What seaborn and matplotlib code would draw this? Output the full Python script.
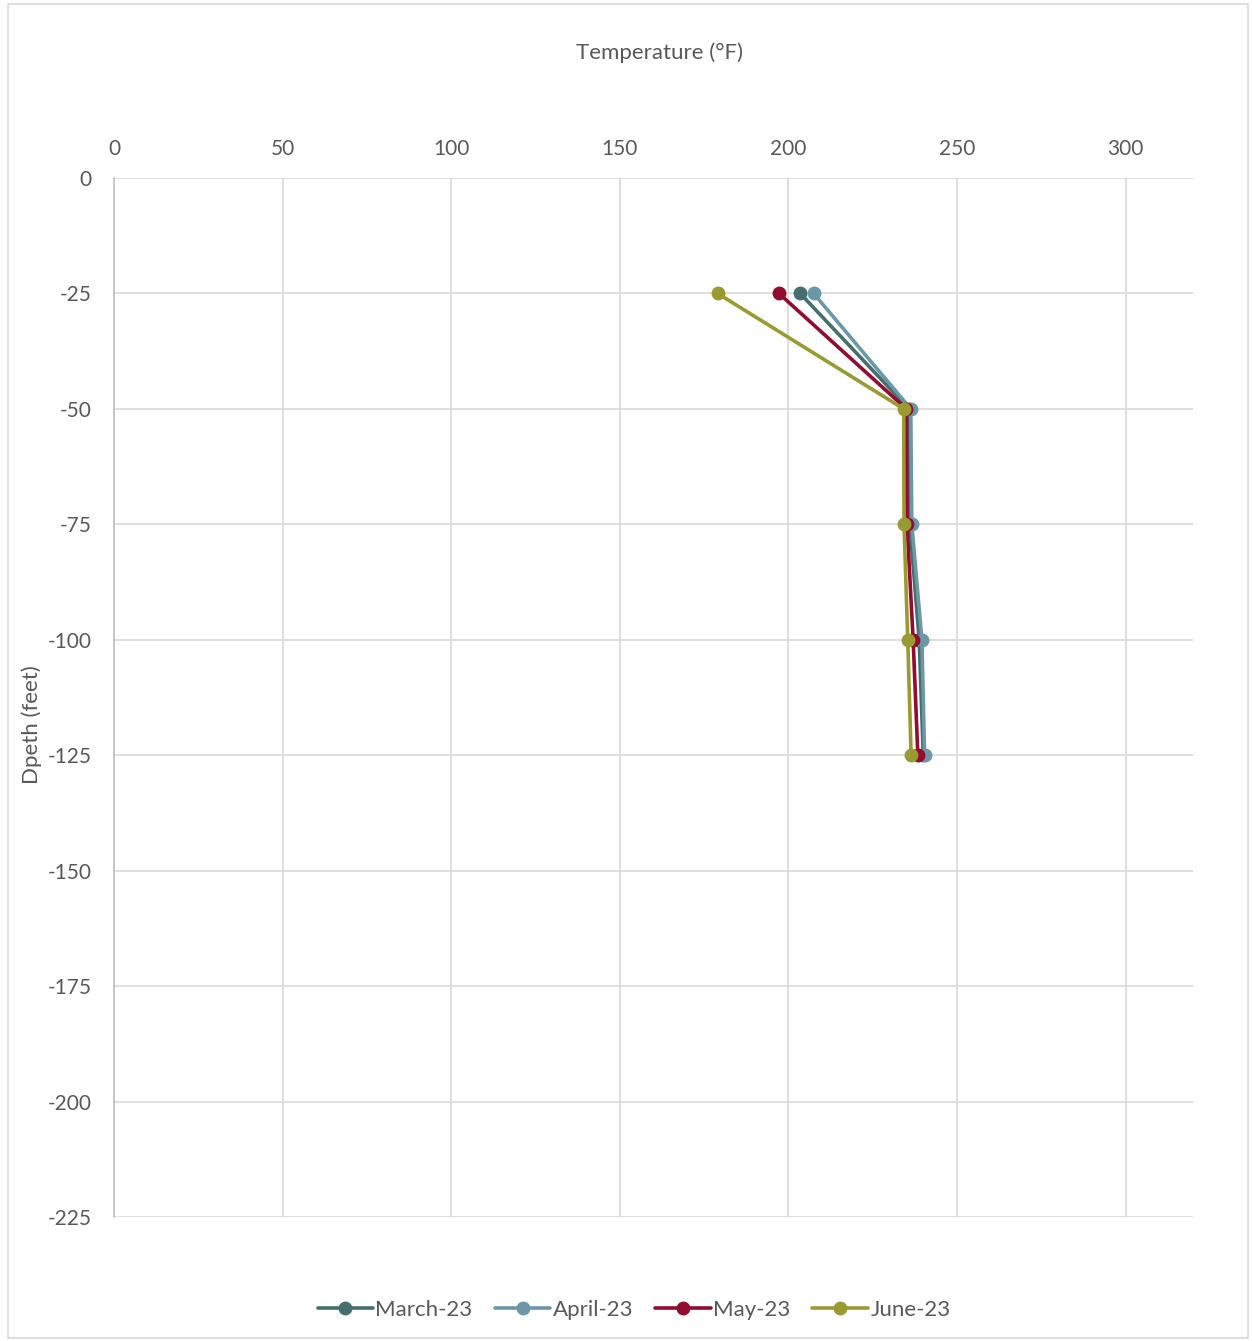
import matplotlib
matplotlib.use("Agg")
import matplotlib.pyplot as plt
import seaborn as sns
import pandas as pd
from matplotlib.patches import Rectangle

depths = [-25, -50, -75, -100, -125]
march = [203.5, 235.8, 236.0, 238.8, 240.0]
april = [207.5, 236.3, 236.6, 239.6, 240.4]
may = [197.2, 235.0, 235.2, 237.0, 238.4]
june = [179.0, 234.2, 234.3, 235.4, 236.4]
months = ["March-23", "April-23", "May-23", "June-23"]
colors = ["#476E6E", "#6B97A6", "#930B2F", "#9A9A32"]

x_ticks = [0, 50, 100, 150, 200, 250, 300]
y_ticks = [0, -25, -50, -75, -100, -125, -150, -175, -200, -225]

rows = []
for name, vals in zip(months, [march, april, may, june]):
    for d, t in zip(depths, vals):
        rows.append({"Depth": d, "Temp": t, "Month": name})
df = pd.DataFrame(rows)

sns.set_theme(style="white")
plt.rcParams["font.family"] = ["Lato", "DejaVu Sans"]
plt.rcParams["axes.unicode_minus"] = False

fig = plt.figure(figsize=(12.52, 13.41), dpi=100)
ax = fig.add_axes([114/1252, 1 - 1217/1341, (1193-114)/1252, (1217-178)/1341])

sns.lineplot(data=df, x="Temp", y="Depth", hue="Month", hue_order=months,
             palette=colors, sort=False, estimator=None, marker="o",
             markersize=10, markeredgewidth=0, linewidth=2.6, ax=ax)

ax.set_xlim(0, 320)
ax.set_ylim(-225, 0)
ax.set_xticks(x_ticks)
ax.set_yticks(y_ticks)
ax.xaxis.tick_top()
ax.xaxis.set_label_position("top")
ax.tick_params(axis="both", length=0, labelsize=15, colors="#595959")
ax.tick_params(axis="x", pad=14)
ax.tick_params(axis="y", pad=16)
ax.grid(True, color="#D9D9D9", linewidth=1.2)
ax.set_axisbelow(True)
for s in ["top", "right", "bottom"]:
    ax.spines[s].set_visible(False)
ax.spines["left"].set_color("#BFBFBF")
ax.spines["left"].set_linewidth(1.2)

ax.set_xlabel("")
ax.set_ylabel("Dpeth (feet)", fontsize=16, color="#595959")
ax.yaxis.set_label_coords((42 - 114) / 1079, (1217 - 725) / 1039)
fig.text(660/1252, 1 - 53/1341, "Temperature (°F)", fontsize=16, color="#595959",
         ha="center", va="center")

handles, labels = ax.get_legend_handles_labels()
ax.legend(handles, labels, loc="center", bbox_to_anchor=(634/1252, 1 - 1310/1341),
          bbox_transform=fig.transFigure, ncol=4, frameon=False, fontsize=16,
          labelcolor="#595959", handlelength=2.5, columnspacing=1.0, handletextpad=0.1)

fig.patches.append(Rectangle((8/1252, 3/1341), (1248-8)/1252, (1337-3)/1341,
                             transform=fig.transFigure, fill=False,
                             edgecolor="#D9D9D9", linewidth=1.2))

fig.savefig("out.png", dpi=100, facecolor="white")
